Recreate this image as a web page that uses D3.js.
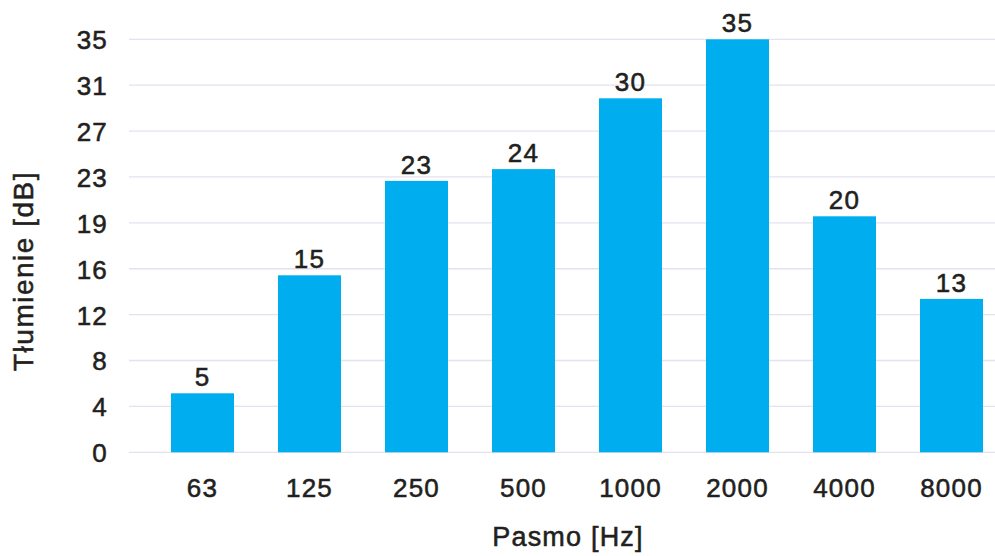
<!DOCTYPE html>
<html><head><meta charset="utf-8">
<script src="https://cdn.jsdelivr.net/npm/d3@7"></script>
<style>
html,body{margin:0;padding:0;background:#fff;}
svg text{font-family:"Liberation Sans",Arial,Helvetica,sans-serif;fill:#231f20;stroke:#231f20;stroke-width:0.55px;}
</style></head>
<body>
<svg id="chart" width="995" height="556"></svg>
<script>
const categories = ["63","125","250","500","1000","2000","4000","8000"];
const values = [5, 15, 23, 24, 30, 35, 20, 13];
const yTickValues = [0, 35/9, 70/9, 105/9, 140/9, 175/9, 210/9, 245/9, 280/9, 35];
const xTitle = "Pasmo [Hz]";
const yTitle = "Tłumienie [dB]";

const svg = d3.select("#chart");
const gridLeft = 129, gridRight = 995;
const x = d3.scaleBand().domain(categories).range([149, 1005]).paddingInner(0.411).paddingOuter(0.2055);
const y = d3.scaleLinear().domain([0, 35]).range([452.3, 39.3]);

// gridlines
svg.append("g").selectAll("line").data(yTickValues).join("line")
  .attr("x1", gridLeft).attr("x2", gridRight)
  .attr("y1", d => y(d)).attr("y2", d => y(d))
  .attr("stroke", "#e4e2ee").attr("stroke-width", 1.3);

// y axis
const yAxis = d3.axisLeft(y).tickValues(yTickValues).tickSize(0).tickPadding(0)
  .tickFormat(d => Math.round(d));
const gy = svg.append("g").attr("transform", "translate(108,0)").call(yAxis);
gy.select(".domain").remove();
gy.selectAll("text").attr("font-size", 26).attr("dy", "0.36em").attr("letter-spacing", 1.2)
  .style("font-family", '"Liberation Sans",Arial,sans-serif').attr("fill", "#231f20");

// bars
svg.append("g").selectAll("rect").data(values).join("rect")
  .attr("x", (d, i) => x(categories[i]))
  .attr("width", x.bandwidth())
  .attr("y", d => y(d))
  .attr("height", d => y(0) - y(d))
  .attr("fill", "#00aeef");

// value labels
svg.append("g").selectAll("text").data(values).join("text")
  .attr("x", (d, i) => x(categories[i]) + x.bandwidth() / 2)
  .attr("y", d => y(d) - 7)
  .attr("text-anchor", "middle")
  .attr("font-size", 26).attr("letter-spacing", 1.2)
  .text(d => d);

// x axis
const xAxis = d3.axisBottom(x).tickSize(0).tickPadding(0);
const gx = svg.append("g").attr("transform", "translate(0,452)").call(xAxis);
gx.select(".domain").remove();
gx.selectAll("text").attr("font-size", 26).attr("dy", 0).attr("y", 45).attr("letter-spacing", 1.2)
  .style("font-family", '"Liberation Sans",Arial,sans-serif').attr("fill", "#231f20");

// titles
svg.append("text").attr("x", 568).attr("y", 546).attr("text-anchor", "middle")
  .attr("font-size", 27).attr("letter-spacing", 1.2).text(xTitle);
svg.append("text").attr("transform", "translate(33,271) rotate(-90)").attr("text-anchor", "middle")
  .attr("font-size", 28).attr("letter-spacing", 1.5).text(yTitle);
</script>
</body></html>
